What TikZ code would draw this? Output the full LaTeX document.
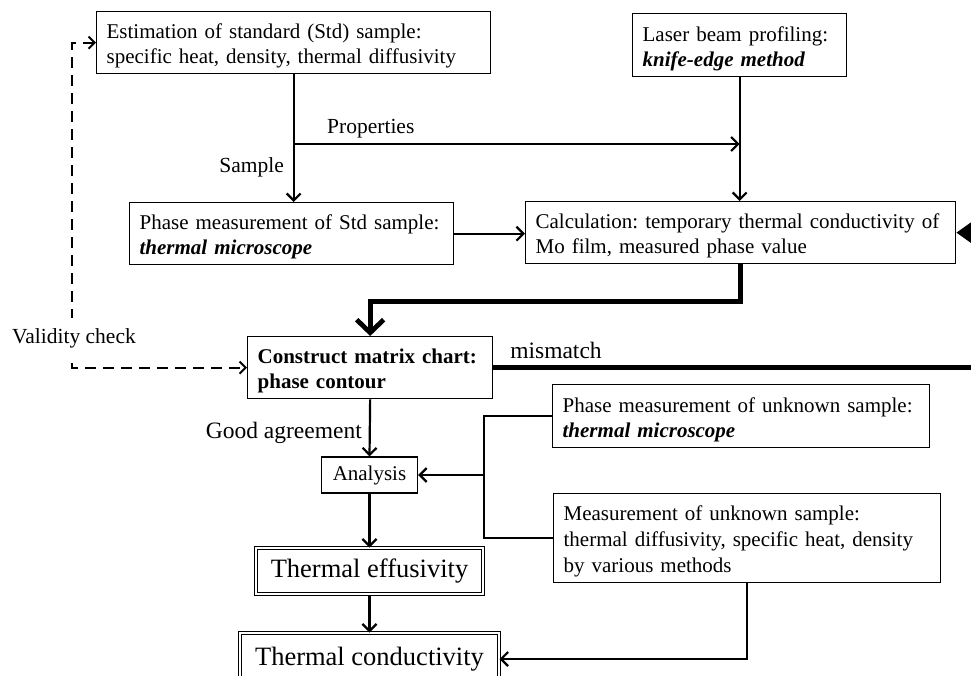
\documentclass[tikz,border=0pt]{standalone}
\usepackage{fontspec}
\setmainfont{Liberation Serif}
\usetikzlibrary{arrows.meta}
\begin{document}
\frenchspacing
\begin{tikzpicture}[x=1pt,y=-1pt,
  box/.style={draw, line width=1.3pt, anchor=north west, align=left, inner xsep=10pt, inner ysep=0pt, font=\fontsize{21}{25}\selectfont\frenchspacing, execute at begin node={\rule{0pt}{22pt}}},
  cbox/.style={draw, line width=1.3pt, align=center, inner xsep=4pt, inner ysep=0pt, font=\fontsize{21}{25}\selectfont},
  dbox/.style={draw, line width=1pt, double, double distance=2.5pt, align=center, inner xsep=4pt, inner ysep=0pt, font=\fontsize{26.5}{30}\selectfont},
  lab/.style={inner sep=0pt, font=\fontsize{21.5}{25}\selectfont},
  biglab/.style={inner sep=0pt, font=\fontsize{23.5}{27}\selectfont},
  conn/.style={line width=2.2pt, -{Straight Barb[length=7pt,width=14pt]}},
  plain/.style={line width=2.2pt},
  heavy/.style={line width=4.8pt},
  dashconn/.style={line width=2pt, dash pattern=on 11pt off 7pt, {Straight Barb[length=6pt,width=12pt]}-{Straight Barb[length=6pt,width=12pt]}}
]
\useasboundingbox (0,0) rectangle (971,675);
\clip (0,0) rectangle (971,675);

% boxes
\node[box, text width=374pt, minimum height=62pt] (est) at (96,11)
  {Estimation of standard (Std) sample:\\specific heat, density, thermal diffusivity};
\node[box, text width=194pt, minimum height=63pt] (laser) at (632,13)
  {Laser beam profiling:\\\textbf{\textit{knife-edge method}}};
\node[box, text width=304pt, minimum height=62pt] (std) at (129,202)
  {Phase measurement of Std sample:\\\textbf{\textit{thermal microscope}}};
\node[box, text width=410pt, minimum height=62pt] (calc) at (525,201)
  {Calculation: temporary thermal conductivity of\\Mo film, measured phase value};
\node[box, text width=225pt, minimum height=62pt] (construct) at (247,336)
  {\textbf{Construct matrix chart:}\\\textbf{phase contour}};
\node[box, text width=357pt, minimum height=63pt] (pu) at (552,384)
  {Phase measurement of unknown sample:\\\textbf{\textit{thermal microscope}}};
\node[box, text width=367pt, minimum height=89pt, font=\fontsize{21}{26}\selectfont] (meas) at (553,493)
  {Measurement of unknown sample:\\thermal diffusivity, specific heat, density\\by various methods};
\node[cbox, minimum width=96pt, minimum height=36pt] (analysis) at (369.5,475) {Analysis};
\node[dbox, minimum width=227pt, minimum height=46pt] (eff) at (369.5,571) {Thermal effusivity};
\node[dbox, minimum width=259pt, minimum height=52pt] (cond) at (369.5,659) {Thermal conductivity};

% labels
\node[lab, anchor=base east] (sample) at (284,172) {Sample};
\node[lab, anchor=base west] (props) at (327,133) {Properties};
\node[biglab, anchor=base] (mism) at (556,358) {mismatch};
\node[biglab, anchor=base east] (good) at (362,438) {Good agreement};

% helper coordinates
\coordinate (br) at (293,144);
\coordinate (rin) at (995,232);
\coordinate (rout) at (995,367);
\coordinate (jn) at (484,475);

% connectors
\draw[conn] (est.south) -- (est.south |- std.north);
\draw[conn] (br) -- (br -| laser.south);
\draw[conn] (laser.south) -- (laser.south |- calc.north);
\draw[conn] (std.east) -- (std.east -| calc.west);
\draw[heavy, -{Straight Barb[length=13pt,width=27pt]}] (calc.south) -- ++(0,37) -| (construct.north);
\draw[heavy, -{Triangle[length=18pt,width=24pt]}] (rin |- calc.east) -- (calc.east);
\draw[heavy] (construct.east) -- (construct.east -| rout);
\draw[dashconn] (est.west) -- ++(-24,0) |- (construct.west);
\node[lab, anchor=base, fill=white, inner xsep=0pt, inner ysep=10pt] (valid) at (74,343) {Validity check};
\draw[conn] (construct.south) -- (analysis.north);
\draw[plain] (pu.west) -- (pu.west -| jn) |- (meas.west);
\draw[conn] (jn) -- (analysis.east);
\draw[conn] (analysis.south) -- (eff.north);
\draw[conn] (eff.south) -- (cond.north);
\draw[conn] (meas.south) |- (cond.east);
\end{tikzpicture}
\end{document}
